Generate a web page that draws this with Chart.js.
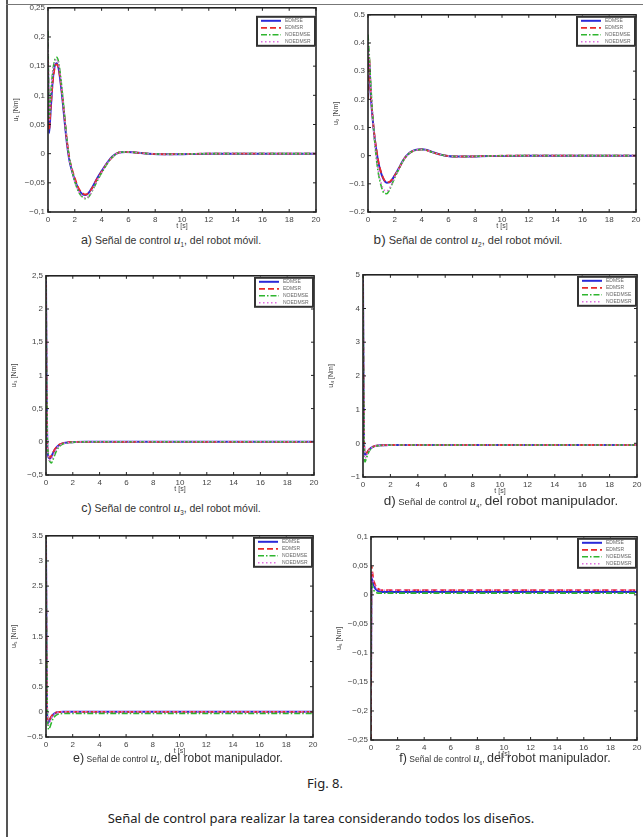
<!DOCTYPE html>
<html><head><meta charset="utf-8">
<script src="https://cdn.jsdelivr.net/npm/chart.js@4.4.1/dist/chart.umd.min.js"></script>
<style>
html,body{margin:0;padding:0;background:#fff;}
body{width:643px;height:837px;position:relative;overflow:hidden;font-family:"Liberation Sans",Arial,sans-serif;color:#333;}
.pane{position:absolute;}
.cap{position:absolute;white-space:nowrap;transform:translateX(-50%);color:#333;line-height:1;}
.cap i{font-family:"Liberation Serif",serif;}
.cap sub{font-size:60%;vertical-align:-3px;}
.note{position:absolute;white-space:nowrap;transform:translateX(-50%);font-family:"Noto Sans",sans-serif;font-size:13px;color:#222;}
#vline{position:absolute;left:6px;top:0;width:2px;height:837px;background:#555;}
#hline{position:absolute;left:6px;top:4px;width:637px;height:1px;background:#777;}
</style></head>
<body>
<div id="vline"></div><div id="hline"></div>
<script>
const seriesNames = ["EDMSE","EDMSR","NOEDMSE","NOEDMSR"];
const tAB = [0,0.08,0.2,0.35,0.5,0.65,0.8,1.0,1.2,1.4,1.6,1.8,2.0,2.3,2.6,2.8,3.0,3.3,3.6,4.0,4.4,4.8,5.3,5.8,6.5,7.5,9,12,16,20];
const tCF = [0,0.04,0.1,0.15,0.2,0.3,0.4,0.5,0.65,0.8,1.0,1.3,1.7,2.2,3,5,10,20];
const xTicks = [0,2,4,6,8,10,12,14,16,18,20];

const u1EDMSE   = [0.15,0.035,0.075,0.125,0.15,0.155,0.145,0.11,0.065,0.02,-0.012,-0.03,-0.045,-0.062,-0.07,-0.071,-0.068,-0.058,-0.045,-0.03,-0.016,-0.005,0.002,0.003,0.002,0,-0.001,0,0,0];
const u1EDMSR   = [0.16,0.04,0.078,0.122,0.147,0.153,0.146,0.113,0.07,0.025,-0.008,-0.027,-0.042,-0.06,-0.068,-0.07,-0.068,-0.059,-0.046,-0.031,-0.017,-0.006,0.002,0.003,0.002,0,-0.001,0,0,0];
const u1NOEDMSE = [0.21,0.06,0.1,0.14,0.16,0.165,0.156,0.12,0.074,0.027,-0.008,-0.03,-0.048,-0.066,-0.075,-0.077,-0.075,-0.064,-0.05,-0.033,-0.018,-0.006,0.002,0.003,0.002,0,-0.001,0,0,0];
const u1NOEDMSR = [0.19,0.055,0.095,0.135,0.156,0.161,0.153,0.118,0.072,0.025,-0.01,-0.031,-0.048,-0.065,-0.074,-0.076,-0.074,-0.063,-0.049,-0.032,-0.017,-0.006,0.002,0.003,0.002,0,-0.001,0,0,0];

const u2EDMSE   = [0.3,0.34,0.22,0.13,0.06,0.01,-0.03,-0.065,-0.087,-0.096,-0.095,-0.085,-0.07,-0.045,-0.018,-0.004,0.006,0.016,0.021,0.023,0.02,0.013,0.005,0,-0.003,-0.003,-0.001,0,0,0];
const u2EDMSR   = [0.2,0.35,0.23,0.135,0.065,0.015,-0.027,-0.062,-0.085,-0.094,-0.093,-0.084,-0.07,-0.046,-0.02,-0.005,0.005,0.015,0.02,0.022,0.019,0.012,0.005,0,-0.003,-0.003,-0.001,0,0,0];
const u2NOEDMSE = [0.43,0.37,0.26,0.14,0.05,-0.02,-0.07,-0.11,-0.133,-0.135,-0.122,-0.1,-0.078,-0.048,-0.02,-0.006,0.005,0.015,0.02,0.022,0.019,0.012,0.005,0,-0.003,-0.003,-0.001,0,0,0];
const u2NOEDMSR = [0.4,0.36,0.25,0.135,0.05,-0.015,-0.06,-0.1,-0.122,-0.126,-0.116,-0.097,-0.076,-0.048,-0.02,-0.006,0.005,0.015,0.02,0.022,0.019,0.012,0.005,0,-0.003,-0.003,-0.001,0,0,0];

const u3EDMSE   = [2.5,0.9,-0.1,-0.2,-0.24,-0.25,-0.22,-0.18,-0.12,-0.08,-0.045,-0.02,-0.008,-0.002,0,0,0,0];
const u3EDMSR   = [2.5,0.95,-0.08,-0.18,-0.22,-0.24,-0.21,-0.17,-0.115,-0.075,-0.042,-0.018,-0.007,-0.002,0,0,0,0];
const u3NOEDMSE = [2.5,1.1,0.0,-0.15,-0.24,-0.3,-0.32,-0.28,-0.2,-0.13,-0.07,-0.03,-0.012,-0.004,0,0,0,0];
const u3NOEDMSR = [2.5,1.0,-0.05,-0.17,-0.24,-0.28,-0.27,-0.23,-0.16,-0.1,-0.055,-0.025,-0.01,-0.003,0,0,0,0];

const u4EDMSE   = [5,1.5,-0.25,-0.33,-0.33,-0.28,-0.22,-0.17,-0.12,-0.09,-0.07,-0.06,-0.055,-0.05,-0.05,-0.05,-0.05,-0.05];
const u4EDMSR   = [5,1.6,-0.2,-0.3,-0.31,-0.27,-0.21,-0.16,-0.115,-0.09,-0.07,-0.06,-0.055,-0.05,-0.05,-0.05,-0.05,-0.05];
const u4NOEDMSE = [5,2.0,-0.4,-0.55,-0.5,-0.38,-0.28,-0.2,-0.14,-0.1,-0.075,-0.062,-0.055,-0.05,-0.05,-0.05,-0.05,-0.05];
const u4NOEDMSR = [5,1.8,-0.3,-0.45,-0.42,-0.33,-0.25,-0.18,-0.13,-0.095,-0.072,-0.06,-0.055,-0.05,-0.05,-0.05,-0.05,-0.05];

const u5EDMSE   = [3.5,1.2,-0.15,-0.22,-0.2,-0.15,-0.1,-0.065,-0.03,-0.012,-0.003,0,0,0,0,0,0,0];
const u5EDMSR   = [3.5,1.2,-0.12,-0.2,-0.19,-0.14,-0.09,-0.06,-0.028,-0.011,-0.003,0,0,0,0,0,0,0];
const u5NOEDMSE = [3.5,1.5,0.0,-0.25,-0.35,-0.3,-0.22,-0.15,-0.09,-0.06,-0.04,-0.033,-0.03,-0.03,-0.03,-0.03,-0.03,-0.03];
const u5NOEDMSR = [3.5,1.3,-0.1,-0.22,-0.25,-0.2,-0.13,-0.08,-0.04,-0.015,-0.004,0,0,0,0,0,0,0];

const u6EDMSE   = [-0.15,0.028,0.025,0.02,0.017,0.012,0.009,0.007,0.006,0.005,0.005,0.005,0.005,0.005,0.005,0.005,0.005,0.005];
const u6EDMSR   = [-0.25,0.05,0.04,0.032,0.026,0.018,0.013,0.011,0.009,0.008,0.008,0.008,0.008,0.008,0.008,0.008,0.008,0.008];
const u6NOEDMSE = [-0.12,0.02,0.015,0.011,0.008,0.005,0.004,0.003,0.003,0.003,0.003,0.003,0.003,0.003,0.003,0.003,0.003,0.003];
const u6NOEDMSR = [-0.22,0.04,0.035,0.028,0.023,0.016,0.012,0.01,0.009,0.008,0.008,0.008,0.008,0.008,0.008,0.008,0.008,0.008];

const yTicksA = [-0.1,-0.05,0,0.05,0.1,0.15,0.2,0.25];
const yLabelsA = ["−0,1","−0,05","0","0,05","0,1","0,15","0,2","0,25"];
const yTicksB = [-0.2,-0.1,0,0.1,0.2,0.3,0.4,0.5];
const yLabelsB = ["−0.2","−0.1","0","0.1","0.2","0.3","0.4","0.5"];
const yTicksC = [-0.5,0,0.5,1,1.5,2,2.5];
const yLabelsC = ["−0,5","0","0,5","1","1,5","2","2,5"];
const yTicksD = [-1,0,1,2,3,4,5];
const yLabelsD = ["−1","0","1","2","3","4","5"];
const yTicksE = [-0.5,0,0.5,1,1.5,2,2.5,3,3.5];
const yLabelsE = ["−0.5","0","0.5","1","1.5","2","2.5","3","3.5"];
const yTicksF = [-0.25,-0.2,-0.15,-0.1,-0.05,0,0.05,0.1];
const yLabelsF = ["−0,25","−0,2","−0,15","−0,1","−0,05","0","0,05","0,1"];

const styles = [
  {color:'#2a2ad8', width:2, dash:[], order:4},
  {color:'#e82a2a', width:1.8, dash:[6,3], order:3},
  {color:'#2fb52f', width:1.6, dash:[6,2,1.5,2], order:2},
  {color:'#e070e0', width:1.6, dash:[1.5,2.5], order:1}
];

const panels = [
  {L:48,T:4,R:316,B:212, t:tAB, ys:[u1EDMSE,u1EDMSR,u1NOEDMSE,u1NOEDMSR], min:-0.1,max:0.25, ticks:yTicksA, labels:yLabelsA, title:'u₁ [Nm]', lg:8},
  {L:368,T:11,R:636,B:212, t:tAB, ys:[u2EDMSE,u2EDMSR,u2NOEDMSE,u2NOEDMSR], min:-0.2,max:0.5, ticks:yTicksB, labels:yLabelsB, title:'u₂ [Nm]', lg:1},
  {L:46,T:272,R:314,B:475, t:tCF, ys:[u3EDMSE,u3EDMSR,u3NOEDMSE,u3NOEDMSR], min:-0.5,max:2.5, ticks:yTicksC, labels:yLabelsC, title:'u₃ [Nm]', lg:1},
  {L:363,T:271,R:637,B:477, t:tCF, ys:[u4EDMSE,u4EDMSR,u4NOEDMSE,u4NOEDMSR], min:-1,max:5, ticks:yTicksD, labels:yLabelsD, title:'u₄ [Nm]', lg:1},
  {L:46,T:532,R:313,B:737, t:tCF, ys:[u5EDMSE,u5EDMSR,u5NOEDMSE,u5NOEDMSR], min:-0.5,max:3.5, ticks:yTicksE, labels:yLabelsE, title:'u₅ [Nm]', lg:1},
  {L:371,T:533,R:637,B:740, t:tCF, ys:[u6EDMSE,u6EDMSR,u6NOEDMSE,u6NOEDMSR], min:-0.25,max:0.1, ticks:yTicksF, labels:yLabelsF, title:'u₆ [Nm]', lg:1}
];

const frameTicks = {
  id:'frameTicks',
  afterDatasetsDraw(chart, args, opts){
    const {ctx, chartArea:a, scales:{x,y}} = chart;
    ctx.save();
    ctx.strokeStyle='#222';
    ctx.lineWidth=1;
    ctx.setLineDash([]);
    ctx.beginPath();
    x.ticks.forEach(t=>{const p=x.getPixelForValue(t.value);
      ctx.moveTo(p,a.bottom);ctx.lineTo(p,a.bottom-3);ctx.moveTo(p,a.top);ctx.lineTo(p,a.top+3);});
    y.ticks.forEach(t=>{const p=y.getPixelForValue(t.value);
      ctx.moveTo(a.left,p);ctx.lineTo(a.left+3,p);ctx.moveTo(a.right,p);ctx.lineTo(a.right-3,p);});
    ctx.stroke();
    ctx.lineWidth=1.6;
    ctx.strokeRect(a.left,a.top,a.width,a.height);
    const w=60,h=31,lx=a.right-w,ly=a.top+opts.off;
    ctx.fillStyle='#fff';
    ctx.fillRect(lx,ly,w,h);
    ctx.lineWidth=2;ctx.strokeStyle='#333';
    ctx.strokeRect(lx+1,ly+1,w-2,h-2);
    ctx.font='5px "Liberation Sans", Arial, sans-serif';
    ctx.textBaseline='middle';
    chart.data.datasets.forEach((ds,i)=>{
      const yy=ly+5+i*7;
      ctx.strokeStyle=ds.borderColor;ctx.lineWidth=ds.borderWidth;ctx.setLineDash(ds.borderDash||[]);
      ctx.beginPath();ctx.moveTo(lx+5,yy);ctx.lineTo(lx+25,yy);ctx.stroke();
      ctx.setLineDash([]);
      ctx.fillStyle='#666';ctx.fillText(ds.label,lx+29,yy);
    });
    ctx.restore();
  }
};

const padTop=4, padRight=8, yW=40, xH=18;
panels.forEach((p,k)=>{
  const div=document.createElement('div');
  div.className='pane';
  const W=(p.R-p.L)+yW+padRight, H=(p.B-p.T)+padTop+xH;
  div.style.left=(p.L-yW)+'px'; div.style.top=(p.T-padTop)+'px';
  div.style.width=W+'px'; div.style.height=H+'px';
  const cv=document.createElement('canvas');
  div.appendChild(cv); document.body.appendChild(div);
  const datasets=p.ys.map((arr,i)=>({
    label:seriesNames[i],
    data:p.t.map((tt,j)=>({x:tt,y:arr[j]})),
    borderColor:styles[i].color, borderWidth:styles[i].width, borderDash:styles[i].dash,
    order:styles[i].order, pointRadius:0, fill:false, cubicInterpolationMode:'monotone'
  }));
  new Chart(cv,{
    type:'line',
    data:{datasets},
    options:{
      responsive:true, maintainAspectRatio:false, animation:false,
      layout:{padding:{top:padTop,right:padRight,left:0,bottom:0}},
      plugins:{legend:{display:false},tooltip:{enabled:false},frameTicks:{off:p.lg}},
      scales:{
        x:{type:'linear',min:0,max:20,
          afterBuildTicks:s=>{s.ticks=xTicks.map(v=>({value:v}));},
          afterFit:s=>{s.height=xH;},
          grid:{display:false,drawTicks:false},border:{display:false},
          ticks:{padding:3,color:'#444',font:{family:'"Liberation Sans", Arial, sans-serif',size:8},maxRotation:0,autoSkip:false},
          title:{display:true,text:'t [s]',color:'#444',font:{family:'"Liberation Sans", Arial, sans-serif',size:7},padding:{top:0,bottom:0}}
        },
        y:{type:'linear',min:p.min,max:p.max,
          afterBuildTicks:s=>{s.ticks=p.ticks.map(v=>({value:v}));},
          afterFit:s=>{s.width=yW;},
          grid:{display:false,drawTicks:false},border:{display:false},
          ticks:{padding:3,color:'#444',font:{family:'"Liberation Sans", Arial, sans-serif',size:8},autoSkip:false,
            callback:(v)=>{const i=p.ticks.findIndex(q=>Math.abs(q-v)<1e-9);return i>=0?p.labels[i]:'';}},
          title:{display:true,text:p.title,color:'#444',font:{family:'"Liberation Sans","DejaVu Sans", Arial, sans-serif',size:7},padding:{top:4,bottom:0}}
        }
      }
    },
    plugins:[frameTicks]
  });
});
</script>
<div class="cap" style="left:171px;top:233px;font-size:10.5px;"><span style="font-size:12.5px">a)</span> Señal de control <i style="font-size:13.5px">u</i><sub>1</sub>, del robot móvil.</div>
<div class="cap" style="left:468px;top:233px;font-size:11px;"><span style="font-size:13.5px">b)</span> Señal de control <i style="font-size:13.5px">u</i><sub>2</sub>, del robot móvil.</div>
<div class="cap" style="left:171px;top:501px;font-size:10.5px;"><span style="font-size:12.5px">c)</span> Señal de control <i style="font-size:13.5px">u</i><sub>3</sub>, del robot móvil.</div>
<div class="cap" style="left:501px;top:494px;font-size:9.5px;"><span style="font-size:13.5px">d)</span> Señal de control <i style="font-size:13.5px">u</i><sub>4</sub>, <span style="font-size:13.5px">del robot manipulador.</span></div>
<div class="cap" style="left:178px;top:752px;font-size:8.5px;"><span style="font-size:12.5px">e)</span> Señal de control <i style="font-size:12.5px">u</i><sub>5</sub>, <span style="font-size:12px">del robot manipulador.</span></div>
<div class="cap" style="left:505px;top:752px;font-size:8.5px;"><span style="font-size:12.5px">f)</span> Señal de control <i style="font-size:12.5px">u</i><sub>6</sub>, <span style="font-size:12.5px">del robot manipulador.</span></div>
<div class="note" style="left:325px;top:774px;">Fig. 8.</div>
<div class="note" style="left:321px;top:809px;">Señal de control para realizar la tarea considerando todos los diseños.</div>
</body></html>
